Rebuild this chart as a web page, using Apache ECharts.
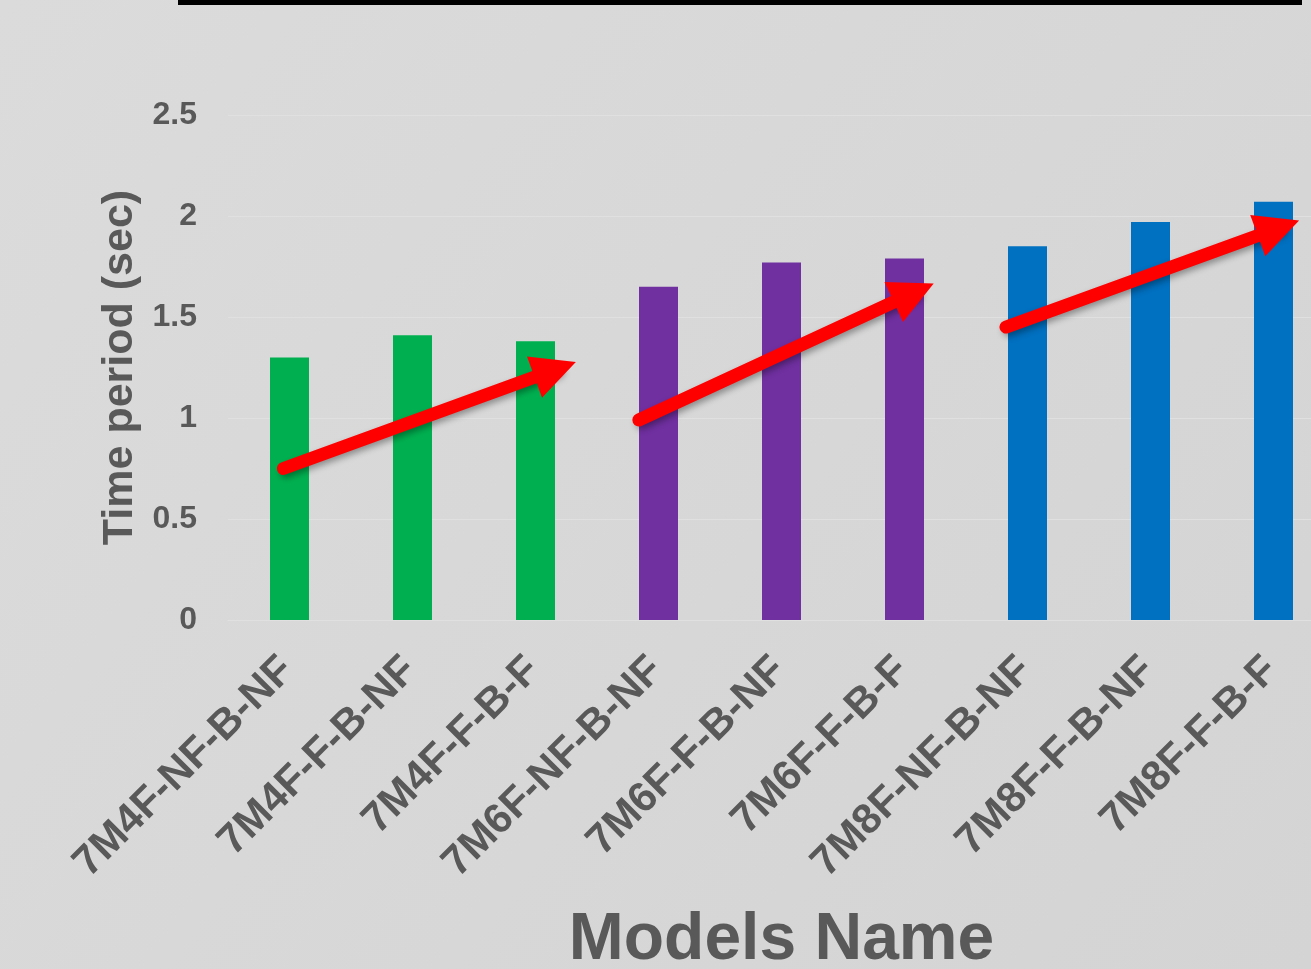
<!DOCTYPE html>
<html>
<head>
<meta charset="utf-8">
<script src="https://cdn.jsdelivr.net/npm/echarts@6/dist/echarts.min.js"></script>
<style>
html,body{margin:0;padding:0;background:#d8d8d8;}
#chart{width:1311px;height:969px;}
</style>
</head>
<body>
<div id="chart"></div>
<script>
// ---- data ----
var categories = ['7M4F-NF-B-NF','7M4F-F-B-NF','7M4F-F-B-F','7M6F-NF-B-NF','7M6F-F-B-NF','7M6F-F-B-F','7M8F-NF-B-NF','7M8F-F-B-NF','7M8F-F-B-F'];
var timePeriod = [1.30, 1.41, 1.38, 1.65, 1.77, 1.79, 1.85, 1.97, 2.07];
var groupIndex = [0, 0, 0, 1, 1, 1, 2, 2, 2];
var yTicks = [0, 0.5, 1, 1.5, 2, 2.5];
// trend arrows: [startIndex, startValue] -> [headIndex, headValue]
var arrowStarts = [[-0.05, 0.75], [2.84, 0.99], [5.825, 1.45]];
var arrowHeads  = [[2.16, 1.24], [5.075, 1.62], [8.04, 1.94]];

// ---- styles ----
var groupColors = ['#00B050', '#7030A0', '#0070C0'];
var textColor = '#595959';
var fontFam = '"Liberation Sans", Arial, Helvetica, sans-serif';

var chart = echarts.init(document.getElementById('chart'), null, {renderer: 'canvas'});

var arrowData = arrowStarts.map(function (s, i) {
  return { coords: [s, arrowHeads[i]] };
});

var option = {
  backgroundColor: new echarts.graphic.LinearGradient(0, 0, 1, 1, [
    {offset: 0, color: '#dbdbdb'},
    {offset: 1, color: '#d4d4d4'}
  ]),
  animation: false,
  textStyle: {fontFamily: fontFam},
  graphic: [{
    type: 'rect',
    shape: {x: 178, y: 0, width: 1124, height: 5},
    style: {fill: '#000000'}
  }],
  grid: {left: 228, top: 115, width: 1107, height: 505, containLabel: false, outerBoundsMode: 'none'},
  xAxis: [{
    type: 'category',
    data: categories,
    axisLine: {show: true, lineStyle: {color: '#e0e0e0', width: 1}},
    axisTick: {show: false},
    axisLabel: {
      interval: 0,
      rotate: 45,
      align: 'right',
      verticalAlign: 'top',
      margin: 12,
      padding: [0, 24, 0, 0],
      color: textColor,
      fontWeight: 'bold',
      fontSize: 42,
      fontFamily: fontFam
    },
    name: 'Models Name',
    nameLocation: 'middle',
    nameGap: 288,
    nameTextStyle: {color: textColor, fontWeight: 'bold', fontSize: 66, fontFamily: fontFam}
  }, {
    type: 'value',
    min: -0.5,
    max: 8.5,
    show: false
  }],
  yAxis: {
    type: 'value',
    min: yTicks[0],
    max: yTicks[yTicks.length - 1],
    interval: 0.5,
    axisLine: {show: false},
    axisTick: {show: false},
    splitLine: {show: true, lineStyle: {color: '#e0e0e0', width: 1}},
    axisLabel: {
      margin: 31,
      color: textColor,
      fontWeight: 'bold',
      fontSize: 32,
      fontFamily: fontFam
    },
    name: 'Time period (sec)',
    nameLocation: 'middle',
    nameGap: 81,
    nameTextStyle: {color: textColor, fontWeight: 'bold', fontSize: 43, fontFamily: fontFam}
  },
  series: [{
    type: 'bar',
    xAxisIndex: 0,
    yAxisIndex: 0,
    data: timePeriod,
    barWidth: 39,
    itemStyle: {
      color: function (p) { return groupColors[groupIndex[p.dataIndex]]; }
    }
  }, {
    type: 'lines',
    coordinateSystem: 'cartesian2d',
    xAxisIndex: 1,
    yAxisIndex: 0,
    data: arrowData,
    symbol: ['none', 'triangle'],
    symbolSize: [45, 44],
    z: 10,
    lineStyle: {
      color: '#FF0000',
      width: 13,
      opacity: 1,
      curveness: 0,
      cap: 'round',
      shadowBlur: 6,
      shadowColor: 'rgba(0,0,0,0.35)',
      shadowOffsetX: 3,
      shadowOffsetY: 3
    }
  }]
};

chart.setOption(option);
</script>
</body>
</html>
